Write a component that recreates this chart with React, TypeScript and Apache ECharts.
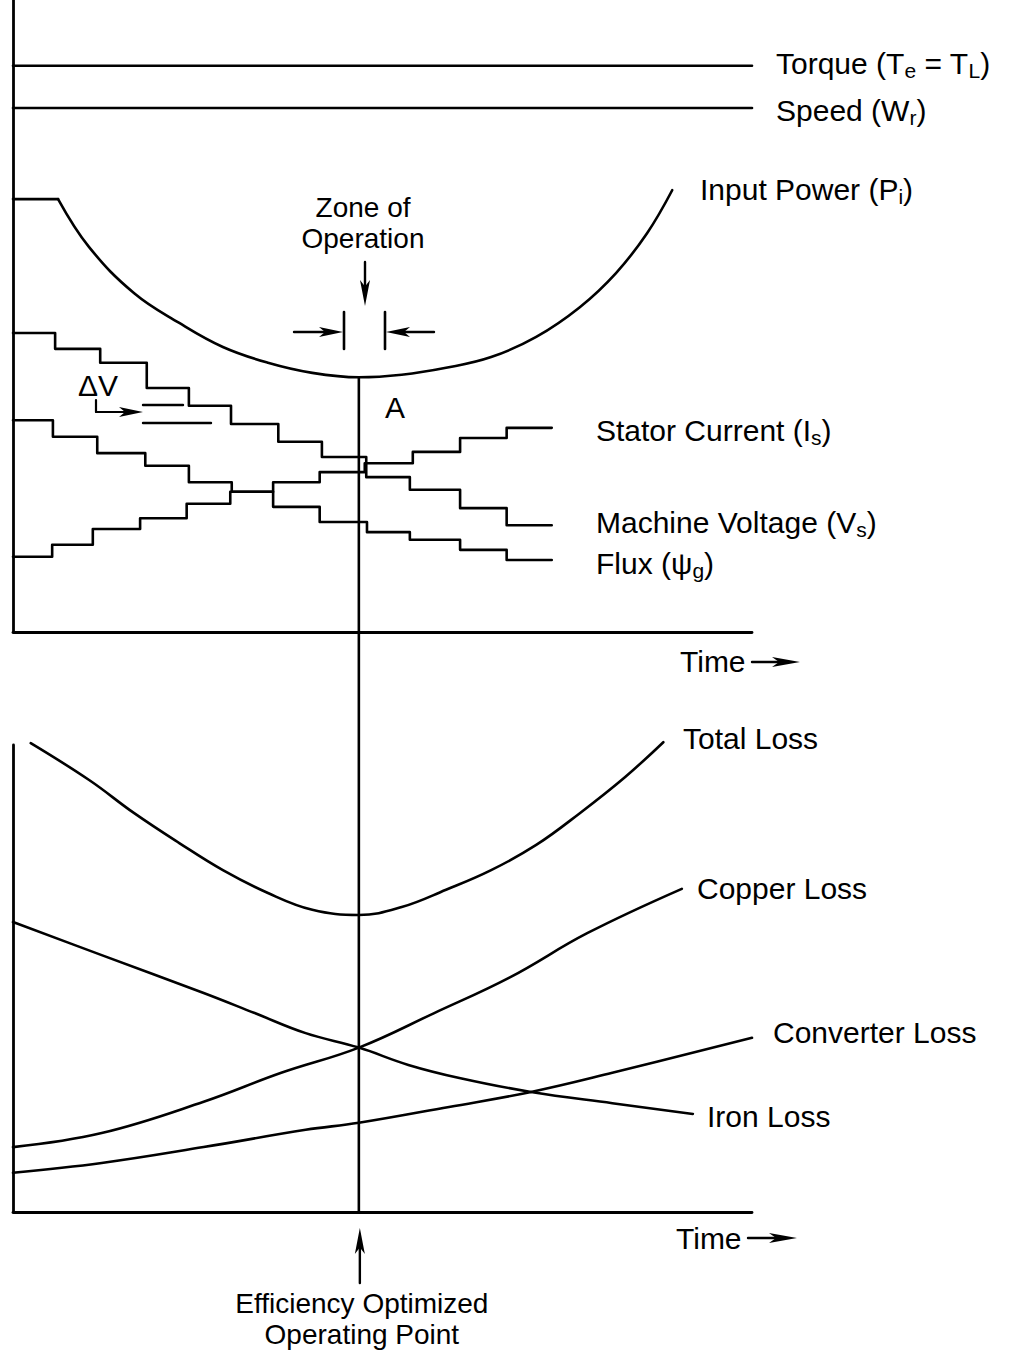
import { useEffect, useRef } from "react";
import * as echarts from "echarts";

// ---------- data (time 0..100, value 0..100 in each panel) ----------
const torqueLevel = 89.6;
const speedLevel = 82.9;

const inputPowerFlat: number[][] = [[0, 68.5], [6.1, 68.5]];
const inputPowerCurve: number[][] = [
  [6.1, 68.5], [10.3, 60.9], [16.4, 53.6], [22.5, 48.9], [28.4, 45.1],
  [34.5, 42.6], [40.5, 41.0], [46.8, 40.3], [52.6, 40.7], [58.6, 41.8],
  [64.7, 43.5], [70.8, 46.7], [76.7, 51.4], [81.6, 56.8], [85.8, 63.1], [89.2, 69.9],
];

const voltageTimes = [0, 5.7, 11.8, 18.1, 23.8, 29.5, 35.9, 41.8, 47.8, 53.7, 60.5, 66.8, 72.9];
const voltageLevels = [47.3, 44.8, 42.6, 38.6, 35.8, 32.9, 30.1, 27.7, 24.5, 22.5, 19.6, 16.9];

const currentTimes = [0, 5.3, 10.8, 17.2, 23.5, 29.4, 35.2, 41.5, 47.6, 54.1, 60.5, 66.8, 72.9];
const currentLevels = [11.9, 13.8, 16.3, 18.0, 20.3, 22.2, 23.7, 25.3, 26.7, 28.5, 30.7, 32.3];

const fluxTimes = [0, 5.4, 11.4, 17.9, 23.8, 29.6, 35.2, 41.5, 47.9, 53.7, 60.5, 66.8, 72.9];
const fluxLevels = [33.5, 30.9, 28.3, 26.3, 23.7, 22.2, 19.8, 17.4, 15.8, 14.6, 13.0, 11.4];

const totalLoss: number[][] = [
  [2.4, 100.4], [10.3, 92.5], [16.4, 85.4], [22.5, 79.0], [28.4, 73.2], [34.5, 68.3],
  [40.5, 64.7], [46.8, 63.6], [52.6, 65.3], [58.6, 69.0], [64.7, 73.2], [70.8, 78.6],
  [76.7, 85.4], [82.8, 93.1], [88.0, 100.6],
];
const ironLoss: number[][] = [
  [0, 62.1], [12.0, 55.0], [25.8, 46.9], [32.7, 42.6], [39.6, 38.3], [46.8, 35.2],
  [53.5, 31.5], [60.4, 28.7], [70.1, 25.7], [81.1, 23.3], [92.0, 21.0],
];
const copperLoss: number[][] = [
  [0, 13.9], [12.0, 16.9], [25.8, 23.6], [36.3, 29.8], [46.8, 35.2], [57.0, 42.6],
  [67.3, 50.3], [77.7, 59.7], [90.5, 69.2],
];
const converterLoss: number[][] = [
  [0, 8.4], [12.0, 10.5], [25.8, 13.9], [39.6, 17.6], [46.8, 19.1], [59.0, 22.5],
  [70.1, 25.7], [81.1, 29.8], [100, 37.3],
];

const optimumTime = 46.8;
const inputPowerMin = 40.3;

// ---------- helpers ----------
const FONT = '"Liberation Sans", Arial, Helvetica, sans-serif';
const FS = 30;
const LW = 2.6;

const stepData = (t: number[], v: number[]) => {
  const d = v.map((y, i) => [t[i], y]);
  d.push([t[t.length - 1], v[v.length - 1]]);
  return d;
};

const lineSeries = (data: number[][], xi: number, extra: any = {}) => ({
  type: "line",
  xAxisIndex: xi,
  yAxisIndex: xi,
  data,
  symbol: "none",
  showSymbol: false,
  silent: true,
  clip: false,
  lineStyle: { color: "#000", width: LW, cap: "round", join: "round" },
  ...extra,
});

type Part = [string, boolean];
const label = (x: number, y: number, parts: Part[], align = "left", lh = 36, fs = FS) => ({
  type: "text",
  x,
  y,
  silent: true,
  style: {
    text: parts.map(([t, s]) => (t === "\n" ? "\n" : `{${s ? "s" : "m"}|${t}}`)).join(""),
    textAlign: align,
    align,
    textVerticalAlign: "middle",
    verticalAlign: "middle",
    fill: "#000",
    rich: {
      m: { fontSize: fs, fontFamily: FONT, lineHeight: lh, fill: "#000", color: "#000", align },
      s: { fontSize: 21, fontFamily: FONT, lineHeight: 21, verticalAlign: "bottom", fill: "#000", color: "#000" },
    },
  },
});

const seg = (x1: number, y1: number, x2: number, y2: number, w = LW) => ({
  type: "line",
  silent: true,
  shape: { x1, y1, x2, y2 },
  style: { stroke: "#000", lineWidth: w, lineCap: "round" },
});

// filled arrow head, tip at (tx,ty), pointing in direction (dx,dy)
const head = (tx: number, ty: number, dx: number, dy: number, len = 24, hw = 5) => {
  const bx = tx - dx * len;
  const by = ty - dy * len;
  const px = -dy;
  const py = dx;
  const mx = tx - dx * len * 0.75;
  const my = ty - dy * len * 0.75;
  return {
    type: "polygon",
    silent: true,
    shape: {
      points: [
        [tx, ty],
        [bx + px * hw, by + py * hw],
        [mx, my],
        [bx - px * hw, by - py * hw],
      ],
    },
    style: { fill: "#000" },
  };
};

export default function App() {
  const ref = useRef<HTMLDivElement>(null);

  useEffect(() => {
    if (!ref.current) return;
    const chart = echarts.init(ref.current, null, { renderer: "svg" });

    const axisCommon = {
      type: "value",
      min: 0,
      max: 100,
      axisLine: { show: true, lineStyle: { color: "#000", width: 2.8, cap: "round" } },
      axisTick: { show: false },
      axisLabel: { show: false },
      splitLine: { show: false },
    };

    chart.setOption({
      animation: false,
      backgroundColor: "#fff",
      grid: [
        { left: 13, top: 0, width: 739, height: 632 },
        { left: 13, top: 745, width: 739, height: 467 },
      ],
      xAxis: [
        { ...axisCommon, gridIndex: 0 },
        { ...axisCommon, gridIndex: 1 },
      ],
      yAxis: [
        { ...axisCommon, gridIndex: 0 },
        { ...axisCommon, gridIndex: 1 },
      ],
      series: [
        lineSeries([[0, torqueLevel], [100, torqueLevel]], 0),
        lineSeries([[0, speedLevel], [100, speedLevel]], 0),
        lineSeries(inputPowerFlat, 0),
        lineSeries(inputPowerCurve, 0, { smooth: 0.4 }),
        lineSeries(stepData(voltageTimes, voltageLevels), 0, { step: "end" }),
        lineSeries(stepData(currentTimes, currentLevels), 0, { step: "end" }),
        lineSeries(stepData(fluxTimes, fluxLevels), 0, { step: "end" }),
        lineSeries(totalLoss, 1, { smooth: 0.4 }),
        lineSeries(ironLoss, 1, { smooth: 0.4 }),
        lineSeries(copperLoss, 1, { smooth: 0.4 }),
        lineSeries(converterLoss, 1, { smooth: 0.4 }),
      ],
    });

    const top = chart.convertToPixel({ xAxisIndex: 0, yAxisIndex: 0 }, [optimumTime, inputPowerMin]) as number[];
    const bot = chart.convertToPixel({ xAxisIndex: 1, yAxisIndex: 1 }, [optimumTime, 0]) as number[];
    const ox = top[0];

    chart.setOption({
      graphic: [
        // optimum vertical line through both panels
        seg(ox, top[1], ox, bot[1]),
        // labels
        label(776, 63, [["Torque (T", false], ["e", true], [" = T", false], ["L", true], [")", false]]),
        label(776, 110, [["Speed (W", false], ["r", true], [")", false]]),
        label(700, 189, [["Input Power (P", false], ["i", true], [")", false]]),
        label(363, 223, [["Zone of", false], ["\n", false], ["Operation", false]], "center", 31, 28),
        label(385, 407, [["A", false]]),
        label(78, 385, [["ΔV", false]]),
        label(596, 430, [["Stator Current (I", false], ["s", true], [")", false]]),
        label(596, 522, [["Machine Voltage (V", false], ["s", true], [")", false]]),
        label(596, 563, [["Flux (ψ", false], ["g", true], [")", false]]),
        label(680, 661, [["Time", false]]),
        label(683, 738, [["Total Loss", false]]),
        label(697, 888, [["Copper Loss", false]]),
        label(773, 1032, [["Converter Loss", false]]),
        label(707, 1116, [["Iron Loss", false]]),
        label(676, 1238, [["Time", false]]),
        label(ox + 3, 1319, [["Efficiency Optimized", false], ["\n", false], ["Operating Point", false]], "center", 31, 28),
        // Time arrows
        seg(752, 662, 785, 662, 2.4),
        head(800, 662, 1, 0, 28, 5),
        seg(748, 1238, 782, 1238, 2.4),
        head(797, 1238, 1, 0, 28, 5),
        // zone of operation arrow
        seg(365, 262, 365, 290, 2.4),
        head(365, 306, 0, 1, 26, 5),
        // zone bars
        seg(344, 312, 344, 349, 2.6),
        seg(385, 312, 385, 349, 2.6),
        seg(294, 332, 325, 332, 2.4),
        head(343, 332, 1, 0, 24, 5),
        seg(434, 332, 404, 332, 2.4),
        head(386, 332, -1, 0, 24, 5),
        // delta V indicator
        seg(96, 400, 96, 412, 2.2),
        seg(96, 412, 126, 412, 2.2),
        head(143, 412, 1, 0, 24, 5),
        seg(143, 405, 183, 405, 2.4),
        seg(143, 423, 211, 423, 2.4),
        // efficiency arrow
        seg(ox + 1, 1283, ox + 1, 1245, 2.4),
        head(ox + 1, 1228, 0, -1, 26, 5),
      ],
    });

    return () => chart.dispose();
  }, []);

  return (
    <div
      ref={ref}
      style={{ position: "absolute", left: 0, top: 0, width: 1012, height: 1351, background: "#fff" }}
    />
  );
}
